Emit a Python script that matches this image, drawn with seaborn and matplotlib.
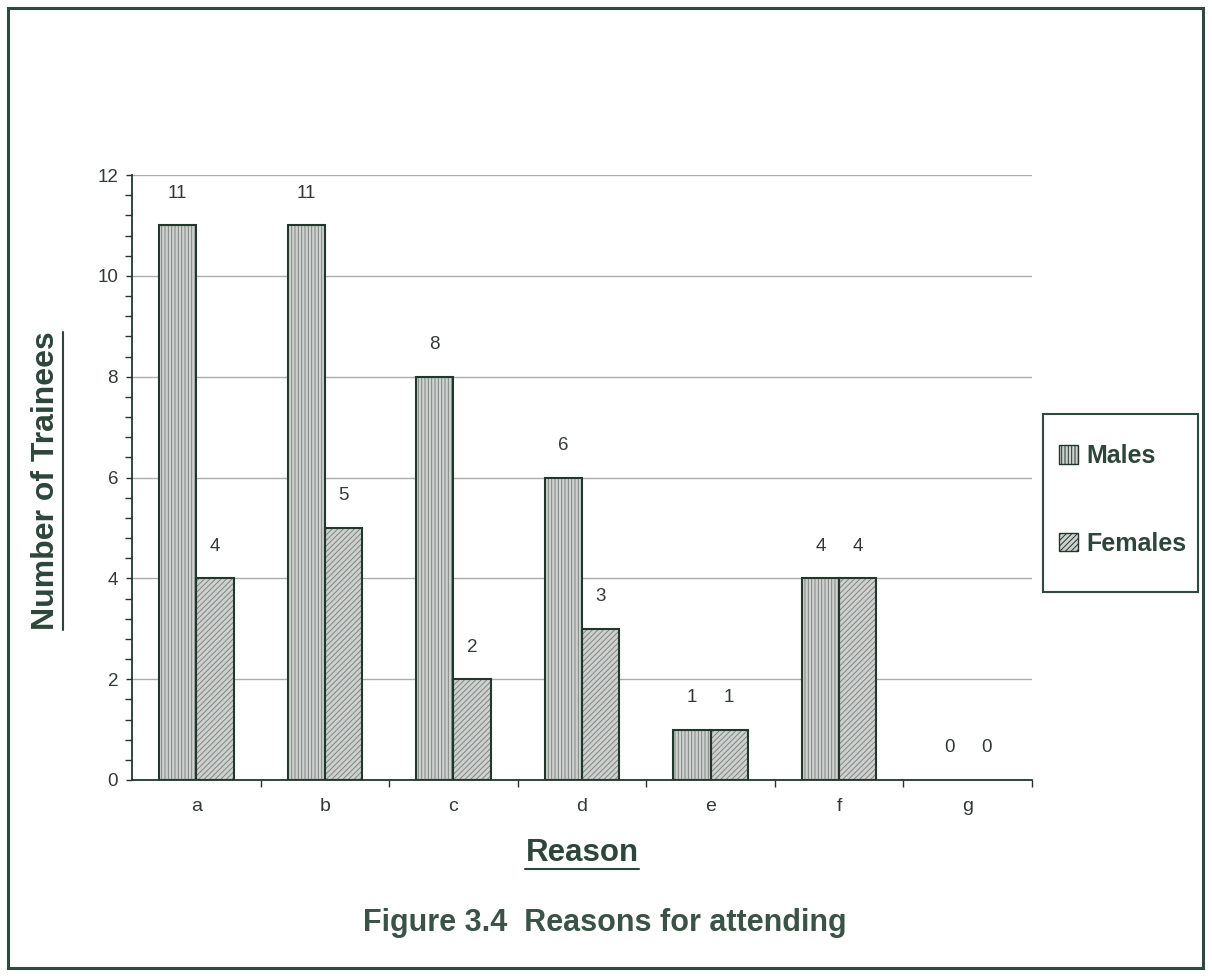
import matplotlib
matplotlib.use("Agg")
import matplotlib.pyplot as plt
from matplotlib.patches import Patch, Rectangle
from matplotlib.lines import Line2D
from matplotlib.ticker import MultipleLocator, FixedLocator, NullFormatter
import seaborn as sns
import pandas as pd

# Data
reasons = ["a", "b", "c", "d", "e", "f", "g"]
males = [11, 11, 8, 6, 1, 4, 0]
females = [4, 5, 2, 3, 1, 4, 0]
series = ["Males", "Females"]

sns.set_theme(style="white")
plt.rcParams["font.family"] = ["Liberation Sans", "DejaVu Sans"]
plt.rcParams["hatch.linewidth"] = 0.7

TEXT = "#333a36"
LABEL = "#2d463b"
EDGE = "#22372c"
FACE = "#cdd1cf"
HATCH = "#7d8681"
GRID = "#a9adab"
FRAME = "#2e4a3d"

df = pd.DataFrame({
    "Reason": reasons * 2,
    "Count": males + females,
    "Sex": [series[0]] * len(reasons) + [series[1]] * len(reasons),
})

W, H = 1212, 976
fig = plt.figure(figsize=(W / 100, H / 100), dpi=100)
ax = fig.add_axes([132 / W, 1 - 780 / H, 900 / W, 605 / H])

sns.barplot(data=df, x="Reason", y="Count", hue="Sex", hue_order=series,
            palette=[FACE, FACE], edgecolor=HATCH, linewidth=0,
            width=0.58, gap=0, errorbar=None, legend=False, ax=ax, zorder=3)

hatches = ["|||||", "//////"]
for cont, hatch in zip(ax.containers, hatches):
    for bar in cont:
        bar.set_hatch(hatch)
        # dark outline drawn over the lighter hatching
        if bar.get_height() > 0:
            ax.add_patch(Rectangle(bar.get_xy(), bar.get_width(), bar.get_height(),
                                   fill=False, edgecolor=EDGE, linewidth=1.5,
                                   zorder=4))
    labels = [f"{int(v)}" for v in cont.datavalues]
    ax.bar_label(cont, labels=labels, padding=17, fontsize=13.5, color=TEXT)

ax.set_xlim(-0.5, len(reasons) - 0.5)
ax.set_ylim(0, 12)
ax.yaxis.set_major_locator(MultipleLocator(2))
ax.yaxis.set_minor_locator(MultipleLocator(0.4))
ax.xaxis.set_minor_locator(FixedLocator([i + 0.5 for i in range(len(reasons))]))
ax.xaxis.set_minor_formatter(NullFormatter())

ax.grid(axis="y", which="major", color=GRID, linewidth=1.0, zorder=0)
ax.grid(axis="x", visible=False)
for side in ("top", "right"):
    ax.spines[side].set_visible(False)
for side in ("left", "bottom"):
    ax.spines[side].set_color(EDGE)
    ax.spines[side].set_linewidth(1.3)

ax.tick_params(axis="y", which="major", length=4, width=1, color=EDGE,
               labelsize=13.5, labelcolor=TEXT, pad=6, left=True)
ax.tick_params(axis="y", which="minor", length=5, width=1, color=EDGE,
               direction="out", left=True)
ax.tick_params(axis="x", which="major", length=0, labelsize=14,
               labelcolor=TEXT, pad=13)
ax.tick_params(axis="x", which="minor", length=5, width=1, color=EDGE,
               bottom=True)
ax.set_xlabel("")
ax.set_ylabel("")

# Axis titles and caption, underlined where the chart underlines them
ylab = fig.text(46 / W, 1 - 481 / H, "Number of Trainees", rotation=90,
                ha="center", va="center", fontsize=23, fontweight="bold",
                color=LABEL)
xlab = fig.text(582 / W, 1 - 853 / H, "Reason", ha="center", va="center",
                fontsize=22.5, fontweight="bold", color=LABEL)
fig.text(605 / W, 1 - 923 / H, "Figure 3.4  Reasons for attending",
         ha="center", va="center", fontsize=22, fontweight="bold",
         color="#3b5247")

renderer = fig.canvas.get_renderer()
bb = ylab.get_window_extent(renderer)
fig.add_artist(Line2D([(bb.x1 + 2) / W] * 2, [bb.y0 / H, bb.y1 / H],
                      transform=fig.transFigure, color=LABEL, linewidth=1.5))
bb = xlab.get_window_extent(renderer)
fig.add_artist(Line2D([bb.x0 / W, bb.x1 / W], [(bb.y0 - 1) / H] * 2,
                      transform=fig.transFigure, color=LABEL, linewidth=1.5))

# Legend inside its own box
handles = [Patch(facecolor=FACE, edgecolor=EDGE, hatch=h, linewidth=1)
           for h in hatches]
fig.legend(handles, series, loc="center", bbox_to_anchor=(1123 / W, 1 - 500 / H),
           frameon=False, prop={"size": 18, "weight": "bold"},
           labelcolor=LABEL, handlelength=0.75, handleheight=0.75,
           handletextpad=0.35, labelspacing=2.55)
fig.add_artist(Rectangle((1043 / W, 1 - 592 / H), 155 / W, 178 / H,
                         transform=fig.transFigure, fill=False,
                         edgecolor=FRAME, linewidth=1.5))

# Outer frame around the whole chart
fig.add_artist(Rectangle((8 / W, 1 - 968 / H), 1195 / W, 960 / H,
                         transform=fig.transFigure, fill=False,
                         edgecolor=FRAME, linewidth=2.2))

fig.savefig("out.png", dpi=100, facecolor="white")
